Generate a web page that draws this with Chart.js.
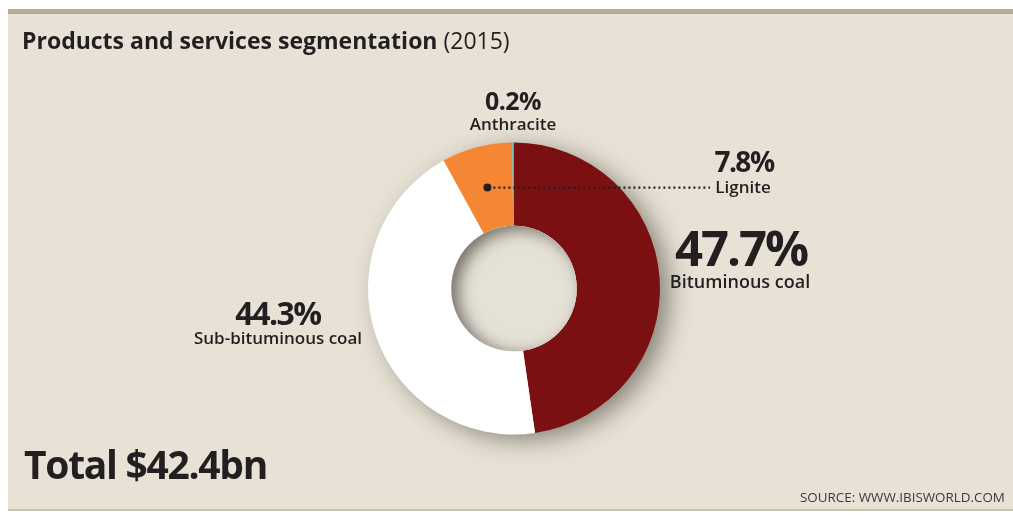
<!DOCTYPE html>
<html>
<head>
<meta charset="utf-8">
<script src="https://cdn.jsdelivr.net/npm/chart.js@4/dist/chart.umd.min.js"></script>
<style>
  body { margin: 0; background: #fff; width: 1013px; height: 517px; overflow: hidden; position: relative; font-family: "Open Sans", sans-serif; color: #231f20; }
  #panel { position: absolute; left: 8px; top: 9px; width: 1005px; height: 502px; background: #e8e2d6; border-top: 5px solid #b7ad97; border-bottom: 2px solid #c9c0aa; box-sizing: border-box; }
  canvas { position: absolute; left: 0; top: 0; }
  .t { position: absolute; white-space: nowrap; line-height: 1; }
  .c { width: 300px; text-align: center; }
  .pct { font-weight: 700; }
  .lab { font-weight: 600; }
</style>
</head>
<body>
<div id="panel"></div>
<canvas id="segChart" width="1013" height="517"></canvas>

<div class="t" style="left:22px; top:29px; font-size:23px;"><b>Products and services segmentation</b> (2015)</div>

<div class="t c pct" style="left:363px; top:88px; font-size:25px; letter-spacing:-0.5px;">0.2%</div>
<div class="t c lab" style="left:363px; top:115px; font-size:17px;">Anthracite</div>

<div class="t c pct" style="left:594px; top:147px; font-size:28px; letter-spacing:-1.5px;">7.8%</div>
<div class="t c lab" style="left:593px; top:178px; font-size:17px;">Lignite</div>

<div class="t c pct" style="left:591px; top:223px; font-size:49px; letter-spacing:-2px;">47.7%</div>
<div class="t c lab" style="left:590px; top:272px; font-size:18px;">Bituminous coal</div>

<div class="t c pct" style="left:128px; top:297px; font-size:32px; letter-spacing:-1.5px;">44.3%</div>
<div class="t c lab" style="left:128px; top:329px; font-size:17px;">Sub-bituminous coal</div>

<div class="t pct" style="left:24px; top:444px; font-size:39px; letter-spacing:-1.3px;">Total $42.4bn</div>
<div class="t" style="left:800px; top:491px; font-size:13.4px; color:#3a3a3a;">SOURCE: WWW.IBISWORLD.COM</div>

<script>
// Products and services segmentation (2015)
const segLabels = ["Bituminous coal", "Sub-bituminous coal", "Lignite", "Anthracite"];
const segShares = [47.7, 44.3, 7.8, 0.2];
const segColors = ["#7a1012", "#ffffff", "#f58634", "#4fb9c1"];

const bgColor = "#e8e2d6";

// soft shadow under the ring and inside the hole
const shadowPlugin = {
    id: "ringShadow",
    beforeDatasetsDraw(chart) {
        const arc = chart.getDatasetMeta(0).data[0];
        const ctx = chart.ctx;
        ctx.save();
        ctx.shadowColor = "rgba(40, 35, 25, 0.5)";
        ctx.shadowBlur = 24;
        ctx.shadowOffsetX = 10;
        ctx.shadowOffsetY = 6;
        ctx.fillStyle = bgColor;
        ctx.beginPath();
        ctx.arc(arc.x, arc.y, arc.outerRadius - 1, 0, Math.PI * 2);
        ctx.fill();
        ctx.restore();
    },
    afterDatasetsDraw(chart) {
        const arc = chart.getDatasetMeta(0).data[0];
        const ctx = chart.ctx;
        const r = arc.innerRadius;
        ctx.save();
        ctx.beginPath();
        ctx.arc(arc.x, arc.y, r, 0, Math.PI * 2);
        ctx.clip();
        ctx.fillStyle = "#e6e1d6";
        ctx.fillRect(arc.x - r, arc.y - r, r * 2, r * 2);
        ctx.shadowColor = "rgba(40, 35, 25, 0.6)";
        ctx.shadowBlur = 16;
        ctx.shadowOffsetX = 7;
        ctx.shadowOffsetY = 4;
        ctx.beginPath();
        ctx.rect(arc.x - r - 60, arc.y - r - 60, r * 2 + 120, r * 2 + 120);
        ctx.arc(arc.x, arc.y, r, 0, Math.PI * 2, true);
        ctx.fill("evenodd");
        ctx.restore();
    },
};

// dotted leader from the Lignite slice to its label
const leaderPlugin = {
    id: "leader",
    afterDraw(chart) {
        const p = chart.getDatasetMeta(0).data[2].tooltipPosition();
        const ctx = chart.ctx;
        ctx.save();
        ctx.fillStyle = "#231f20";
        ctx.strokeStyle = "#231f20";
        ctx.beginPath();
        ctx.arc(p.x, p.y, 4, 0, Math.PI * 2);
        ctx.fill();
        ctx.lineWidth = 2.2;
        ctx.setLineDash([2, 3]);
        ctx.beginPath();
        ctx.moveTo(p.x + 6, p.y);
        ctx.lineTo(710, p.y);
        ctx.stroke();
        ctx.restore();
    },
};

const segChart = new Chart(document.getElementById("segChart"), {
    type: "doughnut",
    data: {
        labels: segLabels,
        datasets: [{
            data: segShares,
            backgroundColor: segColors,
            borderWidth: 0,
        }],
    },
    options: {
        responsive: false,
        animation: false,
        devicePixelRatio: 1,
        cutout: "43%",
        layout: { padding: { left: 368, right: 353, top: 142, bottom: 82 } },
        plugins: {
            legend: { display: false },
            tooltip: { enabled: false },
        },
    },
    plugins: [shadowPlugin, leaderPlugin],
});
</script>
</body>
</html>
